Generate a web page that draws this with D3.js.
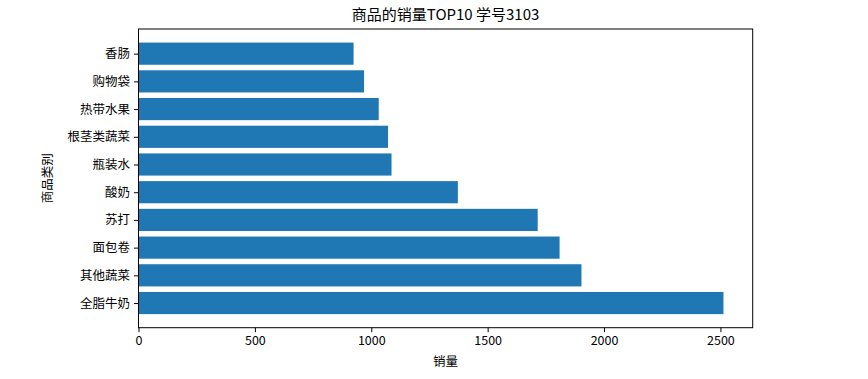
<!DOCTYPE html>
<html><head><meta charset="utf-8">
<script src="https://cdn.jsdelivr.net/npm/d3@7"></script>
<style>body{margin:0;background:#fff}svg{display:block}text{font-family:"Noto Sans CJK SC","Noto Sans",sans-serif;fill:#000}</style>
</head><body><svg id="c" width="868" height="379"></svg>
<script>
const categories = ["全脂牛奶","其他蔬菜","面包卷","苏打","酸奶","瓶装水","根茎类蔬菜","热带水果","购物袋","香肠"];
const values = [2513,1903,1809,1715,1372,1087,1072,1032,969,924];
const xTicks = [0,500,1000,1500,2000,2500];
const title = "商品的销量TOP10 学号3103";
const xLabel = "销量";
const yLabel = "商品类别";

const svg = d3.select("#c");
const L = 138.5, R = 752.7, T = 29, B = 327.7;
const n = categories.length;
const xMax = d3.max(values) * 1.05;
const x = d3.scaleLinear().domain([0, xMax]).range([L, R]);
const yPad = (n - 1 + 0.8) * 0.05;
const y = d3.scaleLinear().domain([-0.4 - yPad, n - 1 + 0.4 + yPad]).range([B, T]);
const bh = Math.abs(y(0.8) - y(0));

svg.append("g").selectAll("rect").data(values).join("rect")
  .attr("x", x(0))
  .attr("y", (d, i) => y(i + 0.4))
  .attr("width", d => x(d) - x(0))
  .attr("height", bh)
  .attr("fill", "#1f77b4");

const xa = svg.append("g").attr("transform", `translate(0,${B})`)
  .call(d3.axisBottom(x).tickValues(xTicks).tickSize(4.5).tickPadding(4).tickFormat(d3.format("d")));
const ya = svg.append("g").attr("transform", `translate(${L},0)`)
  .call(d3.axisLeft(y).tickValues(d3.range(n)).tickSize(4.5).tickPadding(4).tickFormat(i => categories[i]));
[xa, ya].forEach(g => {
  g.select(".domain").remove();
  g.selectAll("line").attr("stroke", "#000").attr("stroke-width", 1);
  g.selectAll("text").attr("font-size", "12.5px").attr("fill", "#000");
});
svg.append("rect").attr("x", L).attr("y", T).attr("width", R - L).attr("height", B - T)
  .attr("fill", "none").attr("stroke", "#000").attr("stroke-width", 1);

svg.append("text").attr("x", (L + R) / 2).attr("y", 20).attr("text-anchor", "middle")
  .attr("font-size", "15px").text(title);
svg.append("text").attr("x", (L + R) / 2).attr("y", 366).attr("text-anchor", "middle")
  .attr("font-size", "12.5px").text(xLabel);
svg.append("text").attr("transform", `translate(52,${(T + B) / 2}) rotate(-90)`).attr("text-anchor", "middle")
  .attr("font-size", "12.5px").text(yLabel);
</script></body></html>
